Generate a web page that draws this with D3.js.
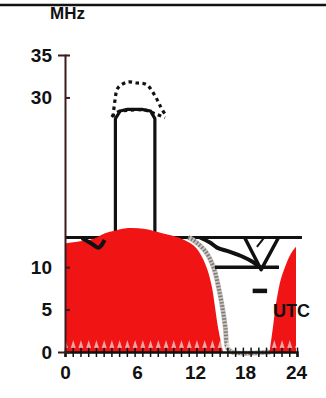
<!DOCTYPE html>
<html><head><meta charset="utf-8">
<script src="https://cdn.jsdelivr.net/npm/d3@7"></script>
<style>html,body{margin:0;padding:0;background:#fff;}svg{display:block;}</style>
</head><body>
<svg id="c" width="326" height="398"></svg>
<script>
// ---- data (hours UTC, MHz) ----
const xLabels = [0, 6, 12, 18, 24];
const yLabels = [0, 5, 10, 30, 35];
const redDay = [[0,12.8],[1,13.0],[2,13.2],[2.5,13.4],[3.33,14.0],[4.17,14.3],[5.25,14.6],[6.83,14.5],[8.6,14.0],[10.3,13.5],[11.4,12.9],[12,12.4],[12.84,11.2],[13.56,9.5],[14.04,7.6],[14.4,5.3],[14.76,2.9],[15.1,1.2],[15.36,0]];
const redNight = [[20.9,0],[21.3,3],[21.7,6],[22.2,8.5],[22.7,10],[23.2,11.2],[23.6,11.9],[24,12.4]];
const grayEdge = [[11.3,13.5],[11.8,13.2],[13.3,11.8],[14.25,9.9],[14.85,7.5],[15.3,5.2],[15.65,2.8],[15.9,0.5],[16.4,0],[21,0]];
const mufLine = [[4.2,13.5],[4.2,27.5],[4.6,28.4],[5.2,28.6],[6.5,28.6],[7.4,28.4],[7.85,27.5],[7.85,13.5]];
const dottedUpper = [[4.0,27.7],[4.17,29.7],[4.4,31.1],[5.17,31.8],[6.0,31.7],[7.0,31.5],[7.86,30.2],[8.4,29.0],[9.0,27.8]];
const dottedLower = [[3.9,27.7],[4.4,28.3],[5.4,28.5],[6.8,28.5],[7.86,28.1],[8.9,27.6]];
const level135 = [[0,13.5],[24.7,13.5]];
const dipLine = [[1.4,13.4],[2.2,12.8],[2.8,12.3],[3.3,13.2]];
const slopeLine = [[12.6,13.5],[13.8,12.9],[14.64,12.3],[16.2,11.8],[17.8,11.2],[18.94,10.6],[20.0,9.8]];
const level10 = [[14.4,10],[22.0,10]];
const vShape = [[18.0,13.4],[19.9,9.7],[21.9,13.4]];
const vInner = [[19.4,12.4],[20.35,13.6]];
const dash7 = [[18.9,7.2],[20.6,7.2]];
const tickCount = 30;

// ---- scales ----
const svg = d3.select("#c");
const x = d3.scaleLinear().domain(xLabels).range([65,137,195,245,296]);
const y = d3.scaleLinear().domain([0,35]).range([352,55]);
const xt = d3.scaleLinear().domain([0,tickCount]).range([65,297]);

const line = d3.line().x(d=>x(d[0])).y(d=>y(d[1]));
const smooth = d3.line().x(d=>x(d[0])).y(d=>y(d[1])).curve(d3.curveCatmullRom.alpha(0.5));
const area = d3.area().x(d=>x(d[0])).y0(y(0)).y1(d=>y(d[1])).curve(d3.curveCatmullRom.alpha(0.5));

// header rule + title
svg.append("line").attr("x1",0).attr("x2",326).attr("y1",5).attr("y2",5)
  .attr("stroke","#111").attr("stroke-width",2.5);
svg.append("text").attr("x",50).attr("y",19).text("MHz")
  .attr("font-family","Liberation Sans, Arial, sans-serif").attr("font-weight","bold")
  .attr("font-size",17).attr("fill","#111");

// background lines
svg.append("path").datum(level135).attr("d",line).attr("fill","none")
  .attr("stroke","#111").attr("stroke-width",3);
svg.append("path").datum(mufLine).attr("d",line).attr("fill","none")
  .attr("stroke","#111").attr("stroke-width",3.2).attr("stroke-linejoin","round");
[dottedUpper, dottedLower].forEach(d=>{
  svg.append("path").datum(d).attr("d",smooth).attr("fill","none")
    .attr("stroke","#111").attr("stroke-width",3.2).attr("stroke-dasharray","3.5,3.5");
});
svg.append("path").datum(grayEdge).attr("d",smooth).attr("fill","none")
  .attr("stroke","#c9c5c0").attr("stroke-width",5);
svg.append("path").datum(grayEdge).attr("d",smooth).attr("fill","none")
  .attr("stroke","#7d7873").attr("stroke-width",4).attr("stroke-dasharray","1.5,1.8");

// red areas
svg.append("path").datum(redDay).attr("d",area).attr("fill","#f01414");
svg.append("path").datum(redNight).attr("d",area).attr("fill","#f01414");

// UTC label (over red)
svg.append("text").attr("x",273).attr("y",317).text("UTC")
  .attr("font-family","Liberation Sans, Arial, sans-serif").attr("font-weight","bold")
  .attr("font-size",18).attr("fill","#111");

// foreground black lines
svg.append("path").datum(dipLine).attr("d",smooth).attr("fill","none")
  .attr("stroke","#111").attr("stroke-width",4).attr("stroke-linejoin","round");
svg.append("path").datum(slopeLine).attr("d",smooth).attr("fill","none")
  .attr("stroke","#111").attr("stroke-width",4);
svg.append("path").datum(level10).attr("d",line).attr("fill","none")
  .attr("stroke","#111").attr("stroke-width",3.5);
svg.append("path").datum(vShape).attr("d",line).attr("fill","none")
  .attr("stroke","#111").attr("stroke-width",3.5).attr("stroke-linejoin","round");
svg.append("path").datum(vInner).attr("d",line).attr("fill","none")
  .attr("stroke","#111").attr("stroke-width",2);
svg.append("path").datum(dash7).attr("d",line).attr("fill","none")
  .attr("stroke","#111").attr("stroke-width",4.5);

// x axis: ticks
const gxt = svg.append("g").attr("transform",`translate(0,${y(0)})`)
  .call(d3.axisBottom(xt).ticks(tickCount).tickSize(5).tickFormat(""));
gxt.select(".domain").attr("stroke","#111").attr("stroke-width",2.5);
gxt.selectAll(".tick line").attr("stroke","#111").attr("stroke-width",1.5).attr("y1",-5);
gxt.selectAll(".tick").append("path").attr("d","M-2.5,-4L0,-12L2.5,-4Z")
  .attr("fill","#fff").attr("opacity",0.6);
// x axis labels
const gx = svg.append("g").attr("transform",`translate(0,${y(0)})`)
  .call(d3.axisBottom(x).tickValues(xLabels).tickSize(0).tickPadding(14));
gx.select(".domain").remove();
gx.selectAll("text").attr("font-family","Liberation Sans, Arial, sans-serif")
  .attr("font-weight","bold").attr("font-size",19).attr("fill","#111");

// y axis
const gy = svg.append("g").attr("transform",`translate(65,0)`)
  .call(d3.axisLeft(y).tickValues(yLabels).tickSize(7).tickPadding(6));
gy.select(".domain").attr("stroke","#3a1c1c").attr("stroke-width",2);
gy.selectAll(".tick line").attr("stroke","#3a1c1c").attr("stroke-width",2).attr("x2",5);
gy.selectAll("text").attr("font-family","Liberation Sans, Arial, sans-serif")
  .attr("font-weight","bold").attr("font-size",19).attr("fill","#111");
</script>
</body></html>
